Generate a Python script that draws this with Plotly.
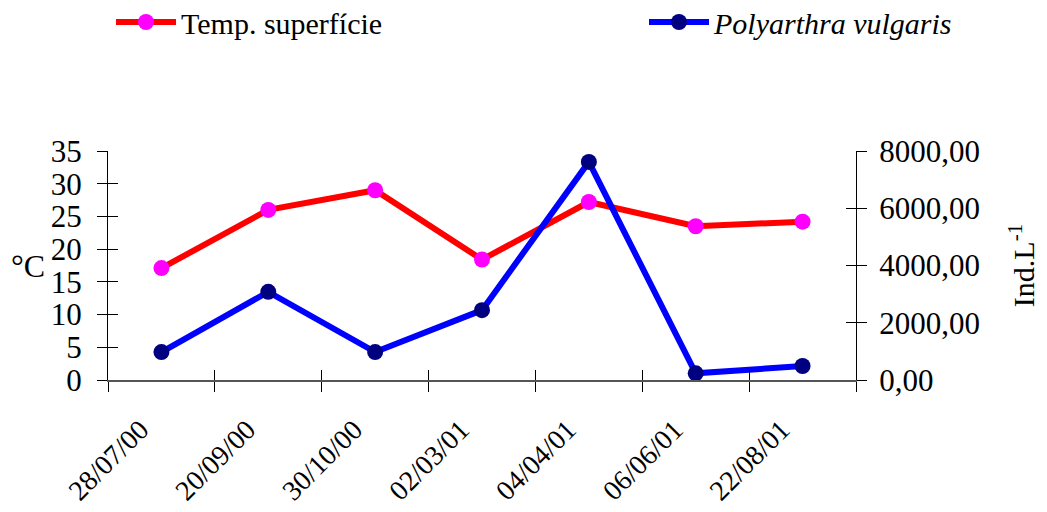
import plotly.graph_objects as go

dates = ["28/07/00", "20/09/00", "30/10/00", "02/03/01", "04/04/01", "06/06/01", "22/08/01"]
temp = [17.1, 26.0, 29.0, 18.4, 27.2, 23.5, 24.2]
polyarthra = [976, 3080, 976, 2440, 7620, 233, 488]

FONT = "Times New Roman, Liberation Serif, DejaVu Serif, serif"
FS = 30
YFS = 31
XFS = 28

fig = go.Figure()
fig.add_trace(go.Scatter(
    x=dates, y=temp, name="Temp. superfície", mode="lines+markers",
    line=dict(color="#FF0000", width=6),
    marker=dict(color="#FF00FF", size=16),
    xaxis="x", yaxis="y", legend="legend"))
fig.add_trace(go.Scatter(
    x=dates, y=polyarthra, name="<i>Polyarthra vulgaris</i>", mode="lines+markers",
    line=dict(color="#0000FF", width=6),
    marker=dict(color="#000080", size=16),
    xaxis="x", yaxis="y2", legend="legend2"))
# invisible helper traces so the inside-tick overlay axes render
fig.add_trace(go.Scatter(x=dates, y=temp, mode="lines", line=dict(width=0),
                         opacity=0, showlegend=False, hoverinfo="skip",
                         xaxis="x2", yaxis="y3"))
fig.add_trace(go.Scatter(x=dates, y=polyarthra, mode="lines", line=dict(width=0),
                         opacity=0, showlegend=False, hoverinfo="skip",
                         xaxis="x2", yaxis="y4"))

axis_common = dict(showgrid=False, zeroline=False, linecolor="black", linewidth=1,
                   tickcolor="black", tickwidth=1, ticklen=10, automargin=False)

# the page body has an 8px margin, so figure coords = page coords - 8
legend_common = dict(orientation="h", xref="container", yref="container",
                     xanchor="left", yanchor="middle", y=1 - 14 / 512,
                     font=dict(family=FONT, size=FS), itemwidth=60,
                     bgcolor="rgba(0,0,0,0)")

fig.update_layout(
    width=1047, height=512,
    margin=dict(l=100, r=199, t=143, b=140, autoexpand=False),
    paper_bgcolor="white", plot_bgcolor="white",
    font=dict(family=FONT, size=FS, color="black"),
    separators=", ",
    showlegend=True,
    legend=dict(x=103 / 1047, **legend_common),
    legend2=dict(x=636 / 1047, **legend_common),
    xaxis=dict(type="category", categoryorder="array", categoryarray=dates,
               tickson="boundaries", ticks="outside", tickangle=-45,
               showline=True, linecolor="#555555", linewidth=2,
               tickfont=dict(family=FONT, size=XFS),
               ticklabelshift=-21, ticklabelstandoff=20,
               range=[-0.5, 6.5], showgrid=False, zeroline=False,
               tickcolor="black", tickwidth=1, ticklen=10, automargin=False),
    xaxis2=dict(type="category", categoryorder="array", categoryarray=dates,
                overlaying="x", matches="x", tickson="boundaries", ticks="inside",
                showticklabels=False, showline=False, side="bottom", automargin=False,
                showgrid=False, zeroline=False, tickcolor="black", tickwidth=1, ticklen=10),
    yaxis=dict(range=[0, 35], tickvals=[0, 5, 10, 15, 20, 25, 30, 35], ticks="outside",
               showline=True, tickfont=dict(family=FONT, size=YFS), ticklabelstandoff=9,
               **axis_common),
    yaxis2=dict(range=[0, 8000], tickvals=[0, 2000, 4000, 6000, 8000], tickformat=".2f",
                overlaying="y", side="right", ticks="outside", showline=True,
                tickfont=dict(family=FONT, size=YFS), ticklabelstandoff=6,
                title=dict(text="Ind.L<sup>-1</sup>", font=dict(family=FONT, size=FS), standoff=34),
                **axis_common),
    yaxis3=dict(range=[0, 35], tickvals=[0, 5, 10, 15, 20, 25, 30, 35], ticks="inside",
                overlaying="y", side="left", showticklabels=False, showline=False, automargin=False,
                showgrid=False, zeroline=False, tickcolor="black", tickwidth=1, ticklen=10),
    yaxis4=dict(range=[0, 8000], tickvals=[0, 2000, 4000, 6000, 8000], ticks="inside",
                overlaying="y", side="right", showticklabels=False, showline=False, automargin=False,
                showgrid=False, zeroline=False, tickcolor="black", tickwidth=1, ticklen=10),
)

fig.add_annotation(text="°C", xref="paper", yref="paper", x=-0.107, y=0.50,
                   showarrow=False, font=dict(family=FONT, size=32),
                   xanchor="center", yanchor="middle")

fig.write_html("out.html")
